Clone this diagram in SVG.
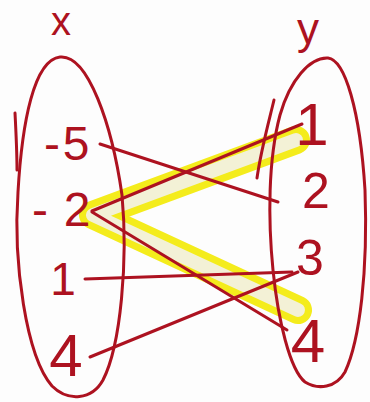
<svg xmlns="http://www.w3.org/2000/svg" width="370" height="402" viewBox="0 0 370 402">
<style>
.ink{fill:none;stroke:#ad1220;stroke-width:3;stroke-linecap:round;stroke-linejoin:round}
.t{font-family:"Liberation Sans",Arial,sans-serif;fill:#ad1220;text-anchor:middle}
.hl{fill:none;stroke-linecap:round;stroke-linejoin:round}
</style>
<rect width="370" height="402" fill="#fdfdfd"/>
<g id="highlight">
<polyline class="hl" points="296,140 93,215 298,310" stroke="#f4ec1c" stroke-width="28"/>
<polyline class="hl" points="296,140 93,215 298,310" stroke="#f3f1d6" stroke-width="14"/>
</g>
<g id="set-x">
<path class="ink" d="M60,57 C88,54 112,125 122,195 C128,260 121,345 103,380 C92,400 68,402 52,386 C26,356 13,262 18,192 C22,122 34,60 60,57 Z"/>
<path class="ink" d="M15,113 C16,132 17,152 17,170"/>
<text class="t" x="61" y="35" font-size="40">x</text>
</g>
<g id="set-y">
<path class="ink" d="M328,58 C345,60 360,110 365,190 C368,270 360,340 345,372 C336,388 318,390 305,382 C290,370 278,320 273,270 C268,220 268,160 280,115 C290,80 310,57 328,58 Z"/>
<path class="ink" d="M274,100 C268,125 261,150 257,178"/>
<text class="t" x="308" y="44" font-size="44">y</text>
</g>
<g id="x-m5"><text class="t" font-size="48"><tspan x="52" y="160">-</tspan><tspan x="76" y="160">5</tspan></text></g>
<g id="x-m2"><text class="t" font-size="48"><tspan x="40" y="226">-</tspan><tspan x="77" y="226">2</tspan></text></g>
<g id="x-1"><text class="t" x="63" y="295" font-size="46">1</text></g>
<g id="x-4"><text class="t" x="66" y="376" font-size="60">4</text></g>
<g id="y-1"><text class="t" x="312" y="145" font-size="60">1</text></g>
<g id="y-2"><text class="t" x="316" y="208" font-size="50">2</text></g>
<g id="y-3"><text class="t" x="310" y="275" font-size="50">3</text></g>
<g id="y-4"><text class="t" x="308" y="362" font-size="62">4</text></g>
<g id="connectors">
<line class="ink" x1="100" y1="144" x2="278" y2="202"/>
<line class="ink" x1="92" y1="211" x2="302" y2="124"/>
<line class="ink" x1="92" y1="212" x2="287" y2="330"/>
<line class="ink" x1="85" y1="279" x2="292" y2="272"/>
<line class="ink" x1="90" y1="357" x2="298" y2="272"/>
</g>
</svg>
